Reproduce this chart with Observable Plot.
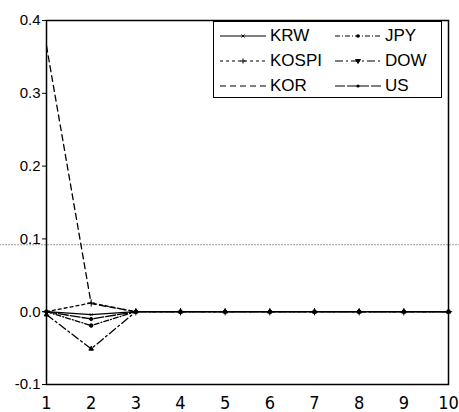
<!DOCTYPE html>
<html>
<head>
<meta charset="utf-8">
<script src="https://cdn.jsdelivr.net/npm/d3@7"></script>
<script src="https://cdn.jsdelivr.net/npm/@observablehq/plot@0.6"></script>
<style>
  body { margin: 0; background: #fff; }
  #wrap { position: relative; width: 459px; height: 412px; font-family: "Liberation Sans", Arial, sans-serif; }
  #legend { position: absolute; left: 213px; top: 21px; width: 229px; height: 77px; border: 1.2px solid #000; background: #fff; box-sizing: border-box; }
  .item { position: absolute; display: flex; align-items: center; height: 20px; font-size: 17px; color: #000; }
  .item svg { margin-right: 4px; }
</style>
</head>
<body>
<div id="wrap"></div>
<script>
const periods = [1, 2, 3, 4, 5, 6, 7, 8, 9, 10];
const seriesNames = ["KRW", "JPY", "KOSPI", "DOW", "KOR", "US"];
const KRW   = [0.000, -0.004, 0, 0, 0, 0, 0, 0, 0, 0];
const JPY   = [0.000, -0.019, 0, 0, 0, 0, 0, 0, 0, 0];
const KOSPI = [0.000,  0.012, 0, 0, 0, 0, 0, 0, 0, 0];
const DOW   = [-0.004, -0.051, 0, 0, 0, 0, 0, 0, 0, 0];
const KOR   = [0.365,  0.011, 0, 0, 0, 0, 0, 0, 0, 0];
const US    = [0.000, -0.010, 0, 0, 0, 0, 0, 0, 0, 0];
const yTicks = [-0.1, 0.0, 0.1, 0.2, 0.3, 0.4];
// faint scan fold line visible across the page
const foldLine = [{y: 0.092, x1: -0.05, x2: 10.3}];

const valuesBySeries = {KRW, JPY, KOSPI, DOW, KOR, US};
const styles = {
  KRW:   {dash: null,        symbol: "times",    r: 1.2},
  JPY:   {dash: "5,2,1,2",   symbol: "circle",   r: 1.8},
  KOSPI: {dash: "3,3",       symbol: "plus",     r: 2.5},
  DOW:   {dash: "8,3,2,3",   symbol: "triangle2",r: 2.2},
  KOR:   {dash: "6,4",       symbol: null,       r: 0},
  US:    {dash: "10,2",      symbol: "circle",   r: 1.6}
};

const data = seriesNames.flatMap(s => periods.map((p, i) => ({series: s, period: p, value: valuesBySeries[s][i]})));

const marks = [
  Plot.ruleY(foldLine, {y: "y", x1: "x1", x2: "x2", stroke: "#999", strokeWidth: 1, strokeDasharray: "2,1", clip: false}),
  Plot.frame({stroke: "#000", strokeWidth: 1.5}),
  Plot.axisY({ticks: yTicks, tickFormat: d => d.toFixed(1), tickSize: 4, tickPadding: 2, fontSize: 15}),
  Plot.axisX({ticks: periods, tickFormat: d => String(d), tickSize: 0, tickPadding: 12, fontSize: 18, fontFamily: "'Liberation Sans Narrow', 'DejaVu Sans Condensed', sans-serif"})
];
for (const s of seriesNames) {
  const st = styles[s];
  const rows = data.filter(d => d.series === s);
  marks.push(Plot.line(rows, {x: "period", y: "value", stroke: "#000", strokeWidth: 1.3, strokeDasharray: st.dash || undefined}));
  if (st.symbol) {
    marks.push(Plot.dot(rows, {x: "period", y: "value", symbol: st.symbol, r: st.r, stroke: "#000", fill: "#000", strokeWidth: 1}));
  }
}

const chart = Plot.plot({
  width: 459,
  height: 412,
  marginLeft: 46,
  marginRight: 11,
  marginTop: 20,
  marginBottom: 28,
  style: {fontFamily: "'Liberation Sans', Arial, sans-serif", background: "#fff", color: "#000"},
  x: {domain: [1, 10]},
  y: {domain: [-0.1, 0.4]},
  marks
});
const wrap = document.getElementById("wrap");
wrap.appendChild(chart);

// legend
const legend = document.createElement("div");
legend.id = "legend";
wrap.appendChild(legend);
const legendPos = [
  ["KRW", 6, 4], ["JPY", 121, 4],
  ["KOSPI", 6, 29], ["DOW", 121, 29],
  ["KOR", 6, 54], ["US", 121, 54]
];
const symPath = {
  times: "M-1.5,-1.5L1.5,1.5M-1.5,1.5L1.5,-1.5",
  circle: null,
  plus: "M-2.5,0L2.5,0M0,-2.5L0,2.5",
  triangle2: "M-2.5,-1.5L2.5,-1.5L0,2.5Z"
};
for (const [name, left, top] of legendPos) {
  const st = styles[name];
  const item = document.createElement("div");
  item.className = "item";
  item.style.left = left + "px";
  item.style.top = top + "px";
  const w = 46;
  let svg = `<svg width="${w}" height="10"><line x1="0" y1="5" x2="${w}" y2="5" stroke="#000" stroke-width="1.2" ${st.dash ? `stroke-dasharray="${st.dash}"` : ""}/>`;
  if (st.symbol === "circle") svg += `<circle cx="${w/2}" cy="5" r="${st.r}" fill="#000"/>`;
  else if (st.symbol) svg += `<path transform="translate(${w/2},5)" d="${symPath[st.symbol]}" stroke="#000" fill="#000"/>`;
  svg += `</svg>`;
  item.innerHTML = svg + `<span>${name}</span>`;
  legend.appendChild(item);
}
</script>
</body>
</html>
